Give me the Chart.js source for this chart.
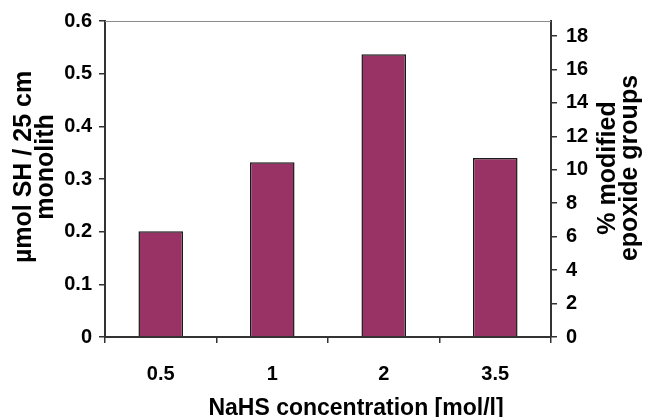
<!DOCTYPE html>
<html><head><meta charset="utf-8">
<script src="https://cdn.jsdelivr.net/npm/chart.js@4"></script>
<style>html,body{margin:0;padding:0;background:#fff;} canvas{display:block}</style>
</head><body>
<canvas id="c" width="645" height="417"></canvas>
<script>
const categories = ['0.5', '1', '2', '3.5'];
const sulfhydrylValues = [0.201, 0.332, 0.537, 0.340];
const leftTicks = [0, 0.1, 0.2, 0.3, 0.4, 0.5, 0.6];
const rightTicks = [0, 2, 4, 6, 8, 10, 12, 14, 16, 18];
const leftMax = 0.6;
const rightMax = 18.9;
const xTitle = 'NaHS concentration [mol/l]';
const leftTitle = ['µmol SH / 25 cm', 'monolith'];
const rightTitle = ['% modified', 'epoxide groups'];

const FONT = '"Liberation Sans", Arial, Helvetica, sans-serif';
const AXIS = '#333333';

const titlePlugin = {
  id: 'titles',
  afterDraw(chart) {
    const ctx = chart.ctx;
    const a = chart.chartArea;
    ctx.save();
    // top frame line
    ctx.strokeStyle = '#8c8c8c';
    ctx.lineWidth = 1;
    ctx.beginPath();
    ctx.moveTo(a.left, a.top + 0.5);
    ctx.lineTo(a.right, a.top + 0.5);
    ctx.stroke();
    ctx.fillStyle = '#000';
    ctx.font = 'bold 23px ' + FONT;
    ctx.textAlign = 'center';
    ctx.textBaseline = 'alphabetic';
    ctx.fillText(xTitle, 356, 415);
    ctx.font = 'bold 25px ' + FONT;
    ctx.textBaseline = 'middle';
    const drawRot = (lines, xs, y) => {
      lines.forEach((t, i) => {
        ctx.save();
        ctx.translate(xs[i], y);
        ctx.rotate(-Math.PI / 2);
        ctx.fillText(t, 0, 0);
        ctx.restore();
      });
    };
    drawRot(leftTitle, [24, 46], 167);
    drawRot(rightTitle, [608, 630], 168);
    ctx.restore();
  }
};

new Chart(document.getElementById('c'), {
  type: 'bar',
  data: {
    labels: categories,
    datasets: [{
      data: sulfhydrylValues,
      yAxisID: 'y',
      backgroundColor: '#993366',
      borderColor: '#1a1a1a',
      borderWidth: 1.5,
      barPercentage: 0.4,
      categoryPercentage: 1.0
    }]
  },
  options: {
    responsive: false,
    animation: false,
    devicePixelRatio: 1,
    layout: { padding: { top: 18, left: 0, right: 0, bottom: 0 } },
    plugins: { legend: { display: false }, tooltip: { enabled: false } },
    scales: {
      x: {
        position: 'bottom',
        offset: true,
        grid: { display: true, drawOnChartArea: false, drawTicks: true, tickLength: 6, color: AXIS, lineWidth: 1.5, offset: true },
        border: { display: true, color: AXIS, width: 2 },
        ticks: { color: '#000', font: { family: FONT, size: 20, weight: 'bold' }, padding: 19, maxRotation: 0 },
        afterFit(s) { s.height = 80; }
      },
      y: {
        position: 'left',
        min: 0, max: leftMax,
        afterBuildTicks(s) { s.ticks = leftTicks.map(v => ({ value: v })); },
        grid: { display: true, drawOnChartArea: false, drawTicks: true, tickLength: 6, color: AXIS, lineWidth: 1.5 },
        border: { display: true, color: AXIS, width: 2 },
        ticks: { color: '#000', font: { family: FONT, size: 20, weight: 'bold' }, padding: 7,
          callback: v => String(Math.round(v * 10) / 10) },
        afterFit(s) { s.width = 105; }
      },
      y2: {
        position: 'right',
        min: 0, max: rightMax,
        afterBuildTicks(s) { s.ticks = rightTicks.map(v => ({ value: v })); },
        grid: { display: true, drawOnChartArea: false, drawTicks: true, tickLength: 6, color: AXIS, lineWidth: 1.5 },
        border: { display: true, color: AXIS, width: 2 },
        ticks: { color: '#000', font: { family: FONT, size: 20, weight: 'bold' }, padding: 9,
          callback: v => String(v) },
        afterFit(s) { s.width = 94; }
      }
    }
  },
  plugins: [titlePlugin]
});
</script>
</body></html>
